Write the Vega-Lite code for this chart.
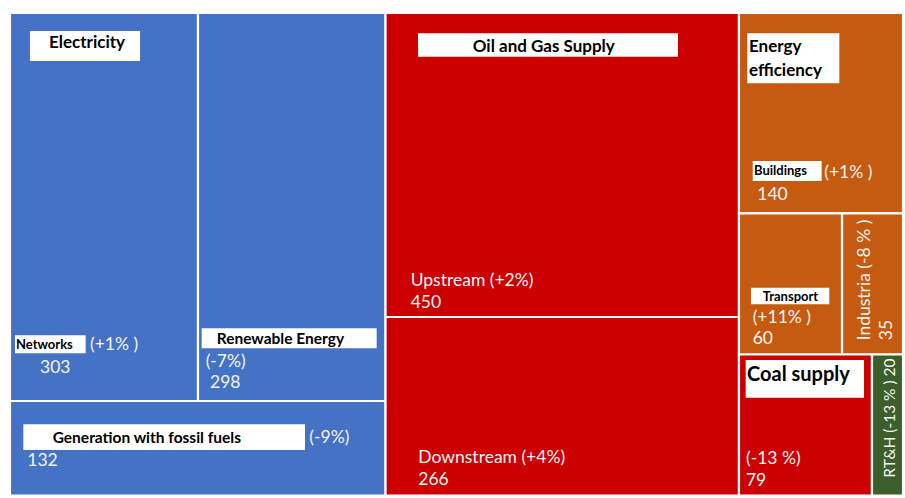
{
  "$schema": "https://vega.github.io/schema/vega-lite/v6.json",
  "width": 897,
  "height": 488,
  "autosize": "none",
  "padding": {"left": 8, "top": 10, "right": 0, "bottom": 0},
  "background": "white",
  "view": {"stroke": null},
  "config": {"font": "Lato"},
  "datasets": {
    "tiles": [
      {"name": "Networks", "group": "Electricity", "value": 303, "x": 0.22, "x2": 21.18, "y": 0.61, "y2": 80.12},
      {"name": "Renewable Energy", "group": "Electricity", "value": 298, "x": 21.18, "x2": 42.09, "y": 0.61, "y2": 80.12},
      {"name": "Generation with fossil fuels", "group": "Electricity", "value": 132, "x": 0.22, "x2": 42.09, "y": 80.12, "y2": 99.49},
      {"name": "Upstream", "group": "Oil and Gas Supply", "value": 450, "x": 42.09, "x2": 81.49, "y": 0.61, "y2": 62.91},
      {"name": "Downstream", "group": "Oil and Gas Supply", "value": 266, "x": 42.09, "x2": 81.49, "y": 62.91, "y2": 99.49},
      {"name": "Buildings", "group": "Energy efficiency", "value": 140, "x": 81.49, "x2": 99.78, "y": 0.61, "y2": 41.66},
      {"name": "Transport", "group": "Energy efficiency", "value": 60, "x": 81.49, "x2": 92.98, "y": 41.66, "y2": 70.59},
      {"name": "Industria", "group": "Energy efficiency", "value": 35, "x": 92.98, "x2": 99.78, "y": 41.66, "y2": 70.59},
      {"name": "Coal supply", "group": "Coal supply", "value": 79, "x": 81.49, "x2": 96.32, "y": 70.59, "y2": 99.49},
      {"name": "RT&H", "group": "RT&H", "value": 20, "x": 96.32, "x2": 99.78, "y": 70.59, "y2": 99.49}
    ],
    "boxes": [
      {"label": "Electricity", "x": 2.45, "x2": 14.72, "y": 4.30, "y2": 10.45},
      {"label": "Oil and Gas Supply", "x": 45.71, "x2": 74.69, "y": 4.78, "y2": 9.57},
      {"label": "Energy efficiency", "x": 82.42, "x2": 92.68, "y": 4.78, "y2": 15.02},
      {"label": "Networks", "x": 0.78, "x2": 8.66, "y": 66.66, "y2": 70.35},
      {"label": "Renewable Energy", "x": 21.59, "x2": 41.10, "y": 65.23, "y2": 69.32},
      {"label": "Generation with fossil fuels", "x": 1.71, "x2": 33.11, "y": 84.90, "y2": 90.16},
      {"label": "Buildings", "x": 83.02, "x2": 90.71, "y": 30.94, "y2": 35.04},
      {"label": "Transport", "x": 82.83, "x2": 91.56, "y": 56.91, "y2": 60.31},
      {"label": "Coal supply", "x": 82.24, "x2": 95.43, "y": 71.72, "y2": 79.45}
    ],
    "heads": [
      {"text": "Electricity", "x": 4.57, "y": 6.76, "tier": "group"},
      {"text": "Oil and Gas Supply", "x": 51.81, "y": 7.52, "tier": "group"},
      {"text": "Energy\nefficiency", "x": 82.61, "y": 7.52, "tier": "group"},
      {"text": "Networks", "x": 0.89, "y": 68.59, "tier": "small"},
      {"text": "Renewable Energy", "x": 23.27, "y": 67.48, "tier": "medium"},
      {"text": "Generation with fossil fuels", "x": 4.98, "y": 87.77, "tier": "medium"},
      {"text": "Buildings", "x": 83.17, "y": 32.99, "tier": "small"},
      {"text": "Transport", "x": 84.14, "y": 58.75, "tier": "small"},
      {"text": "Coal supply", "x": 82.39, "y": 74.80, "tier": "large"}
    ],
    "notes": [
      {"text": "(+1% )", "x": 9.14, "y": 68.65, "orient": "h"},
      {"text": "303", "x": 3.57, "y": 73.42, "orient": "h"},
      {"text": "(-7%)", "x": 22.04, "y": 72.06, "orient": "h"},
      {"text": "298", "x": 22.52, "y": 76.37, "orient": "h"},
      {"text": "(-9%)", "x": 33.59, "y": 87.77, "orient": "h"},
      {"text": "132", "x": 2.15, "y": 92.42, "orient": "h"},
      {"text": "Upstream (+2%)", "x": 44.89, "y": 55.5, "orient": "h"},
      {"text": "450", "x": 44.89, "y": 60.0, "orient": "h"},
      {"text": "Downstream (+4%)", "x": 45.74, "y": 91.87, "orient": "h"},
      {"text": "266", "x": 45.74, "y": 96.31, "orient": "h"},
      {"text": "(+1% )", "x": 91.00, "y": 33.47, "orient": "h"},
      {"text": "140", "x": 83.53, "y": 37.91, "orient": "h"},
      {"text": "(+11% )", "x": 83.02, "y": 63.18, "orient": "h"},
      {"text": "60", "x": 83.02, "y": 67.48, "orient": "h"},
      {"text": "(-13 %)", "x": 82.27, "y": 92.07, "orient": "h"},
      {"text": "79", "x": 82.27, "y": 96.52, "orient": "h"},
      {"text": "Industria (-8 % )", "x": 95.54, "y": 55.33, "orient": "v"},
      {"text": "35", "x": 97.96, "y": 65.57, "orient": "v"},
      {"text": "RT&H (-13 % ) 20", "x": 98.33, "y": 83.61, "orient": "vs"}
    ]
  },
  "layer": [
    {
      "data": {"name": "tiles"},
      "mark": {"type": "rect", "stroke": "white", "strokeWidth": 2.2},
      "encoding": {
        "x": {"field": "x", "type": "quantitative", "scale": {"domain": [0, 100], "nice": false, "zero": false},
              "axis": {"orient": "top", "domainColor": "#8c8c8c", "domainWidth": 2, "ticks": false, "labels": false, "grid": false, "title": null}},
        "x2": {"field": "x2"},
        "y": {"field": "y", "type": "quantitative", "scale": {"domain": [0, 100], "nice": false, "zero": false, "reverse": true},
              "axis": {"orient": "left", "domainColor": "#8c8c8c", "domainWidth": 2, "ticks": false, "labels": false, "grid": false, "title": null}},
        "y2": {"field": "y2"},
        "color": {"field": "group", "type": "nominal",
                  "scale": {"domain": ["Electricity", "Oil and Gas Supply", "Energy efficiency", "Coal supply", "RT&H"],
                            "range": ["#4472C4", "#CC0000", "#C55A11", "#CC0000", "#3B5E2B"]},
                  "legend": null}
      }
    },
    {
      "data": {"name": "boxes"},
      "mark": {"type": "rect", "fill": "white", "stroke": null},
      "encoding": {
        "x": {"field": "x", "type": "quantitative", "axis": null},
        "x2": {"field": "x2"},
        "y": {"field": "y", "type": "quantitative", "axis": null},
        "y2": {"field": "y2"}
      }
    },
    {
      "data": {"name": "heads"},
      "transform": [{"filter": "datum.tier === 'group'"}],
      "mark": {"type": "text", "align": "left", "baseline": "middle", "fontWeight": "bold", "color": "black", "fontSize": 17, "lineBreak": "\n", "lineHeight": 24},
      "encoding": {
        "x": {"field": "x", "type": "quantitative", "axis": null},
        "y": {"field": "y", "type": "quantitative", "axis": null},
        "text": {"field": "text"}
      }
    },
    {
      "data": {"name": "heads"},
      "transform": [{"filter": "datum.tier === 'medium'"}],
      "mark": {"type": "text", "align": "left", "baseline": "middle", "fontWeight": "bold", "color": "black", "fontSize": 15.5},
      "encoding": {
        "x": {"field": "x", "type": "quantitative", "axis": null},
        "y": {"field": "y", "type": "quantitative", "axis": null},
        "text": {"field": "text"}
      }
    },
    {
      "data": {"name": "heads"},
      "transform": [{"filter": "datum.tier === 'small'"}],
      "mark": {"type": "text", "align": "left", "baseline": "middle", "fontWeight": "bold", "color": "black", "fontSize": 13},
      "encoding": {
        "x": {"field": "x", "type": "quantitative", "axis": null},
        "y": {"field": "y", "type": "quantitative", "axis": null},
        "text": {"field": "text"}
      }
    },
    {
      "data": {"name": "heads"},
      "transform": [{"filter": "datum.tier === 'large'"}],
      "mark": {"type": "text", "align": "left", "baseline": "middle", "fontWeight": "bold", "color": "black", "fontSize": 20},
      "encoding": {
        "x": {"field": "x", "type": "quantitative", "axis": null},
        "y": {"field": "y", "type": "quantitative", "axis": null},
        "text": {"field": "text"}
      }
    },
    {
      "data": {"name": "notes"},
      "transform": [{"filter": "datum.orient === 'h'"}],
      "mark": {"type": "text", "align": "left", "baseline": "middle", "color": "#F4F4F4", "fontSize": 17.5},
      "encoding": {
        "x": {"field": "x", "type": "quantitative", "axis": null},
        "y": {"field": "y", "type": "quantitative", "axis": null},
        "text": {"field": "text"}
      }
    },
    {
      "data": {"name": "notes"},
      "transform": [{"filter": "datum.orient === 'v'"}],
      "mark": {"type": "text", "align": "center", "baseline": "middle", "angle": 270, "color": "#F4F4F4", "fontSize": 17.5},
      "encoding": {
        "x": {"field": "x", "type": "quantitative", "axis": null},
        "y": {"field": "y", "type": "quantitative", "axis": null},
        "text": {"field": "text"}
      }
    },
    {
      "data": {"name": "notes"},
      "transform": [{"filter": "datum.orient === 'vs'"}],
      "mark": {"type": "text", "align": "center", "baseline": "middle", "angle": 270, "color": "#F4F4F4", "fontSize": 15.5},
      "encoding": {
        "x": {"field": "x", "type": "quantitative", "axis": null},
        "y": {"field": "y", "type": "quantitative", "axis": null},
        "text": {"field": "text"}
      }
    }
  ]
}
